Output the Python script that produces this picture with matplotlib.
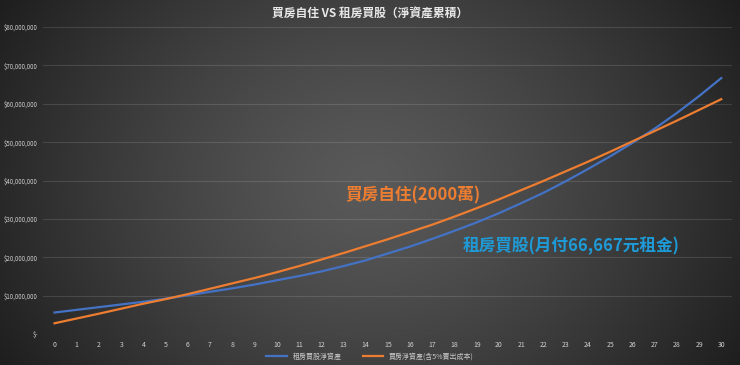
import numpy as np
import matplotlib
matplotlib.use("Agg")
import matplotlib.pyplot as plt
from matplotlib.ticker import FuncFormatter, MultipleLocator

plt.rcParams['font.family'] = ['Noto Sans CJK TC', 'DejaVu Sans']

# 年份
years = list(range(31))

# 租房買股淨資產 (百萬)
rent_stock = [5.6, 6.3, 7.0, 7.7, 8.4, 9.2, 10.1, 11.0, 11.9, 12.9,
              14.0, 15.1, 16.3, 17.7, 19.2, 21.0, 22.8, 24.8, 26.9, 29.1,
              31.5, 34.1, 36.8, 39.8, 43.0, 46.3, 49.8, 53.5, 57.6, 62.0,
              66.7]

# 買房淨資產(含5%賣出成本) (百萬)
buy_house = [2.8, 4.05, 5.3, 6.6, 7.9, 9.1, 10.4, 11.8, 13.2, 14.6,
             16.1, 17.7, 19.4, 21.1, 22.9, 24.7, 26.6, 28.5, 30.6, 32.8,
             35.1, 37.5, 39.9, 42.4, 44.9, 47.5, 50.2, 52.9, 55.6, 58.4,
             61.2]

label_rent = '租房買股淨資產'
label_buy = '買房淨資產(含5%賣出成本)'
title = '買房自住 VS 租房買股（淨資產累積）'
note_buy = '買房自住(2000萬)'
note_rent = '租房買股(月付66,667元租金)'

fig = plt.figure(figsize=(7.4, 3.65), dpi=100)

# 背景漸層
bg = fig.add_axes([0, 0, 1, 1])
xx, yy = np.meshgrid(np.linspace(-1, 1, 400), np.linspace(-1, 1, 200))
r = np.sqrt(xx ** 2 + (yy * 0.6) ** 2)
val = 0.35 - 0.19 * np.clip(r, 0, 1.2) ** 1.3
bg.imshow(np.dstack([val, val, val]), aspect='auto', extent=[0, 1, 0, 1])
bg.set_axis_off()

ax = fig.add_axes([0.0587, 0.0849, 0.931, 0.841])
ax.patch.set_alpha(0)

y_rent = [v * 1e6 for v in rent_stock]
y_buy = [v * 1e6 for v in buy_house]
ax.plot(years, y_rent, color='#4472C4', lw=1.6, label=label_rent)
ax.plot(years, y_buy, color='#ED7D31', lw=1.6, label=label_buy)

ax.set_xlim(-0.5, 30.5)
ax.set_ylim(0, 80e6)
ax.set_xticks(years)
ax.yaxis.set_major_locator(MultipleLocator(10e6))
ax.yaxis.set_major_formatter(FuncFormatter(lambda v, p: '$-' if v == 0 else '${:,.0f}'.format(v)))
ax.grid(axis='y', color='#ffffff', alpha=0.12, lw=0.8)
ax.set_axisbelow(True)
for s in ax.spines.values():
    s.set_visible(False)
ax.tick_params(length=0, colors='#d0d0d0', labelsize=5)
ax.tick_params(axis='y', pad=4, labelsize=4.4)
ax.tick_params(axis='x', pad=5)

ax.text(13.1, 36.1e6, note_buy, color='#ED7D31', fontsize=12, fontweight='bold',
        ha='left', va='center')
ax.text(18.36, 22.9e6, note_rent, color='#1E9BD7', fontsize=12, fontweight='bold',
        ha='left', va='center')

fig.text(0.5, 0.962, title, color='#e8e8e8', fontsize=8.5, fontweight='bold',
         ha='center', va='center')

fig.legend(loc='lower center', bbox_to_anchor=(0.5, -0.005), ncol=2, frameon=False,
           fontsize=5, labelcolor='#c8c8c8', handlelength=3, columnspacing=3)

fig.savefig('out.png', dpi=100)
